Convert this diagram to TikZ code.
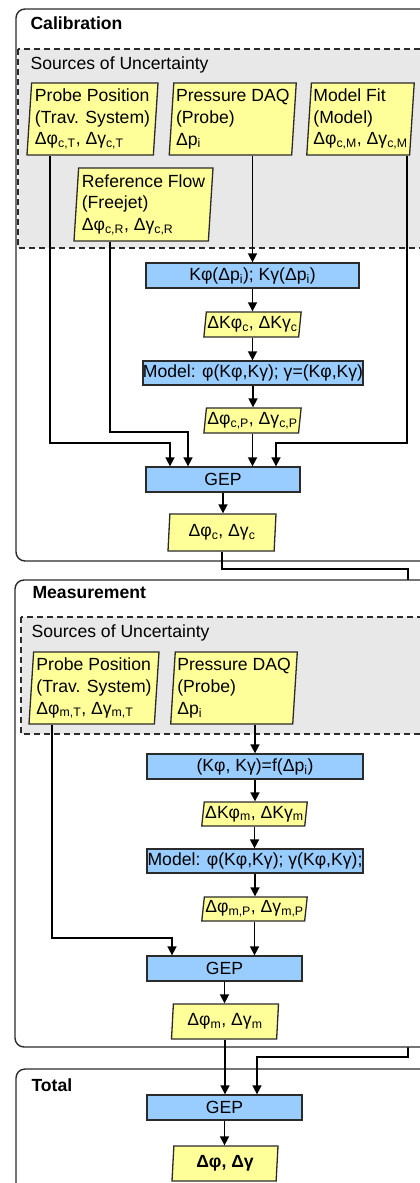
\documentclass[tikz,border=0pt]{standalone}
\usepackage{fontspec}
\setmainfont{Liberation Sans}
\usetikzlibrary{shapes.geometric,arrows.meta}

\definecolor{boxyellow}{HTML}{FFFF99}
\definecolor{boxblue}{HTML}{99CCFF}
\definecolor{areagrey}{HTML}{E8E8E8}
\definecolor{linedark}{HTML}{2B2B2B}
\newcommand{\lo}[1]{\textsubscript{#1}}

\begin{document}
\begin{tikzpicture}[x=1pt,y=-1pt,
  font=\fontsize{17.6}{21.7}\selectfont,
  >={Triangle[length=9pt,width=9pt]},
  stagebox/.style={draw=linedark, line width=1.4pt, fill=white, rounded corners=9pt},
  srcarea/.style={draw=linedark, line width=1.2pt, dash pattern=on 6pt off 4pt, fill=areagrey},
  srcbox/.style={trapezium, trapezium left angle=86, trapezium right angle=94,
    trapezium stretches body, draw=linedark, line width=1.3pt, fill=boxyellow,
    align=left, inner xsep=2pt, inner ysep=3pt, minimum height=72pt},
  databox/.style={trapezium, trapezium left angle=82, trapezium right angle=98,
    trapezium stretches body, draw=linedark, line width=1.3pt, fill=boxyellow,
    inner xsep=1pt, inner ysep=1pt, minimum height=25pt},
  procbox/.style={draw=linedark, line width=1.3pt, fill=boxblue,
    inner sep=0pt, minimum height=25pt},
  conn/.style={draw=black, line width=1.6pt}]
\useasboundingbox (0,0) rectangle (420,1183);
\clip (0,0) rectangle (420,1183);

% Calibration stage
\draw[stagebox] (16,9) rectangle (450,561);
\node[anchor=west, font=\fontsize{17.6}{21}\selectfont\bfseries] (calTitle) at (27,23) {Calibration};
\draw[srcarea] (18,49) rectangle (450,248);
\node[anchor=west] (calSrc) at (27,65) {Sources of Uncertainty};

\node[srcbox, minimum width=131pt] (posC) at (92.5,119) {Probe Position\\(Trav. System)\\Δφ\lo{c,T}, Δγ\lo{c,T}};
\node[srcbox, minimum width=127pt] (daqC) at (232.75,119) {Pressure DAQ\\(Probe)\\Δp\lo{i}};
\node[srcbox, minimum width=105pt] (fitC) at (360.5,119) {Model Fit\\(Model)\\Δφ\lo{c,M}, Δγ\lo{c,M}};
\node[srcbox, minimum width=139pt, minimum height=73pt] (refC) at (143.5,204.5) {Reference Flow\\(Freejet)\\Δφ\lo{c,R}, Δγ\lo{c,R}};

\node[procbox, minimum width=213pt] (kC) at (252.5,275.5) {Kφ(Δp\lo{i}); Kγ(Δp\lo{i})};
\node[databox, minimum width=95pt] (dKC) at (252.5,324.5) {ΔKφ\lo{c}, ΔKγ\lo{c}};
\node[procbox, minimum width=214pt, minimum height=24pt] (modC) at (253,373) {Model: φ(Kφ,Kγ); γ=(Kφ,Kγ)};
\node[databox, minimum width=95pt] (dPC) at (252.5,420.5) {Δφ\lo{c,P}, Δγ\lo{c,P}};
\node[procbox, minimum width=154pt] (gepC) at (223,479.5) {GEP};
\node[databox, trapezium left angle=84, trapezium right angle=96, minimum width=108pt, minimum height=37pt] (resC) at (222,532.5) {Δφ\lo{c}, Δγ\lo{c}};

\draw[conn,->] ([xshift=-42.5pt]posC.south) |- (170,443) -- ([xshift=-53pt]gepC.north);
\draw[conn,->] ([xshift=-33.5pt]refC.south) |- (188,432) -- ([xshift=-35pt]gepC.north);
\draw[conn,->] ([xshift=46.5pt]fitC.south) |- (276,443) -- ([xshift=53pt]gepC.north);
\draw[conn,->] (daqC.south -| kC.north) -- (kC.north);
\draw[conn,->] (kC.south) -- (kC.south |- dKC.north);
\draw[conn,->] (dKC.south) -- (dKC.south |- modC.north);
\draw[conn,->] (modC.south) -- (modC.south |- dPC.north);
\draw[conn,->] (dPC.south) -- (dPC.south |- gepC.north);
\draw[conn,->] (gepC.south) -- (gepC.south |- resC.north);

% Total stage (frame first, the calibration result runs into it)
\draw[stagebox] (16,1069) rectangle (450,1220);
\node[anchor=west, font=\fontsize{17.6}{21}\selectfont\bfseries] (totTitle) at (28,1085) {Total};
\node[procbox, minimum width=155pt] (gepT) at (224.5,1107.5) {GEP};
\node[databox, trapezium left angle=84, trapezium right angle=96, minimum width=106pt, minimum height=35pt, font=\fontsize{17.6}{21}\selectfont\bfseries] (resT) at (225,1163.5) {Δφ, Δγ};

\draw[conn,->] (resC.south) |- (408,569) -- (408,1057) -| ([xshift=32.5pt]gepT.north);

% Measurement stage
\draw[stagebox] (15,580) rectangle (450,1047);
\node[anchor=west, font=\fontsize{17.6}{21}\selectfont\bfseries] (meaTitle) at (29,593) {Measurement};
\draw[srcarea] (21,617) rectangle (450,734);
\node[anchor=west] (meaSrc) at (28,633) {Sources of Uncertainty};

\node[srcbox, minimum width=130pt] (posM) at (94,688) {Probe Position\\(Trav. System)\\Δφ\lo{m,T}, Δγ\lo{m,T}};
\node[srcbox, minimum width=124pt] (daqM) at (234,688) {Pressure DAQ\\(Probe)\\Δp\lo{i}};

\node[procbox, minimum width=216pt] (kM) at (255,766.5) {(Kφ, Kγ)=f(Δp\lo{i})};
\node[databox, minimum width=95pt, minimum height=24pt] (dKM) at (254.5,814) {ΔKφ\lo{m}, ΔKγ\lo{m}};
\node[procbox, minimum width=216pt, minimum height=24pt] (modM) at (255,861) {Model: φ(Kφ,Kγ); γ(Kφ,Kγ);};
\node[databox, minimum width=95pt, minimum height=24pt] (dPM) at (254.5,909) {Δφ\lo{m,P}, Δγ\lo{m,P}};
\node[procbox, minimum width=155pt] (gepM) at (224.5,968.5) {GEP};
\node[databox, trapezium left angle=84, trapezium right angle=96, minimum width=107pt, minimum height=35pt] (resM) at (225,1021.5) {Δφ\lo{m}, Δγ\lo{m}};

\draw[conn,->] ([xshift=-42pt]posM.south) |- (172,938) -- ([xshift=-52.5pt]gepM.north);
\draw[conn,->] (daqM.south -| kM.north) -- (kM.north);
\draw[conn,->] (kM.south) -- (kM.south |- dKM.north);
\draw[conn,->] (dKM.south) -- (dKM.south |- modM.north);
\draw[conn,->] (modM.south) -- (modM.south |- dPM.north);
\draw[conn,->] (dPM.south) -- (dPM.south |- gepM.north);
\draw[conn,->] (gepM.south) -- (gepM.south |- resM.north);

% into the total
\draw[conn,->] (resM.south) -- (resM.south |- gepT.north);
\draw[conn,->] (gepT.south) -- (gepT.south |- resT.north);
\end{tikzpicture}
\end{document}
